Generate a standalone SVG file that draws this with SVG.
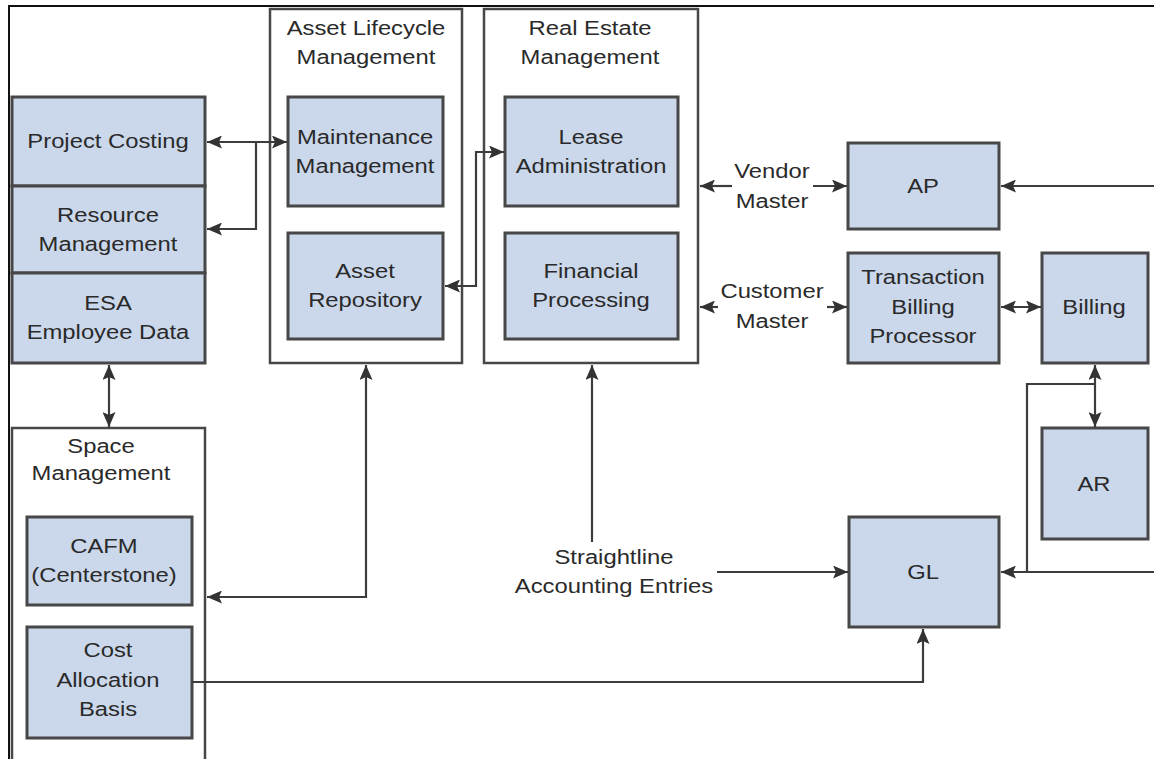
<svg xmlns="http://www.w3.org/2000/svg" width="1154" height="759" viewBox="0 0 1154 759">
<style>
.box{fill:#cbd8eb;stroke:#474747;stroke-width:3}
.cont{fill:#ffffff;stroke:#474747;stroke-width:2.5}
.con{fill:none;stroke:#3c3c3c;stroke-width:2.2}
.t{font-family:"Liberation Sans",Arial,sans-serif;font-size:20px;fill:#2a2a2a;text-anchor:middle}
</style>
<defs>
<marker id="ah" markerUnits="userSpaceOnUse" markerWidth="15" markerHeight="13" viewBox="0 0 15 13" refX="15" refY="6.5" orient="auto-start-reverse">
<path d="M0,0 L15,6.5 L0,13 L3,6.5 z" fill="#333333"/>
</marker>
</defs>
<rect width="1154" height="759" fill="#ffffff"/>
<g id="frame">
<path d="M1154,6 H9 V759" fill="none" stroke="#111111" stroke-width="2"/>
</g>
<g id="asset-lifecycle-management">
<rect class="cont" x="270" y="9" width="192" height="354"/>
<text class="t" transform="translate(366,0) scale(1.19,1)"><tspan x="0" y="35">Asset Lifecycle</tspan><tspan x="0" y="64">Management</tspan></text>
</g>
<g id="real-estate-management">
<rect class="cont" x="484" y="9" width="214" height="354"/>
<text class="t" transform="translate(590,0) scale(1.19,1)"><tspan x="0" y="35">Real Estate</tspan><tspan x="0" y="64">Management</tspan></text>
</g>
<g id="space-management">
<path class="cont" d="M12,762 V428 H205 V762"/>
<text class="t" transform="translate(101,0) scale(1.19,1)"><tspan x="0" y="453">Space</tspan><tspan x="0" y="480">Management</tspan></text>
</g>
<g id="project-costing">
<rect class="box" x="12" y="97" width="193" height="89"/>
<text class="t" transform="translate(108,0) scale(1.19,1)"><tspan x="0" y="148">Project Costing</tspan></text>
</g>
<g id="resource-management">
<rect class="box" x="12" y="186" width="193" height="87"/>
<text class="t" transform="translate(108,0) scale(1.19,1)"><tspan x="0" y="222">Resource</tspan><tspan x="0" y="251">Management</tspan></text>
</g>
<g id="esa-employee-data">
<rect class="box" x="12" y="273" width="193" height="90"/>
<text class="t" transform="translate(108,0) scale(1.19,1)"><tspan x="0" y="310">ESA</tspan><tspan x="0" y="339">Employee Data</tspan></text>
</g>
<g id="maintenance-management">
<rect class="box" x="288" y="97" width="155" height="109"/>
<text class="t" transform="translate(365,0) scale(1.19,1)"><tspan x="0" y="144">Maintenance</tspan><tspan x="0" y="173">Management</tspan></text>
</g>
<g id="asset-repository">
<rect class="box" x="288" y="233" width="155" height="106"/>
<text class="t" transform="translate(365,0) scale(1.19,1)"><tspan x="0" y="278">Asset</tspan><tspan x="0" y="307">Repository</tspan></text>
</g>
<g id="lease-administration">
<rect class="box" x="505" y="97" width="173" height="109"/>
<text class="t" transform="translate(591,0) scale(1.19,1)"><tspan x="0" y="144">Lease</tspan><tspan x="0" y="173">Administration</tspan></text>
</g>
<g id="financial-processing">
<rect class="box" x="505" y="233" width="173" height="106"/>
<text class="t" transform="translate(591,0) scale(1.19,1)"><tspan x="0" y="278">Financial</tspan><tspan x="0" y="307">Processing</tspan></text>
</g>
<g id="ap">
<rect class="box" x="848" y="143" width="151" height="86"/>
<text class="t" transform="translate(923,0) scale(1.19,1)"><tspan x="0" y="193">AP</tspan></text>
</g>
<g id="transaction-billing-processor">
<rect class="box" x="848" y="253" width="151" height="110"/>
<text class="t" transform="translate(923,0) scale(1.19,1)"><tspan x="0" y="284">Transaction</tspan><tspan x="0" y="314">Billing</tspan><tspan x="0" y="343">Processor</tspan></text>
</g>
<g id="billing">
<rect class="box" x="1042" y="253" width="106" height="110"/>
<text class="t" transform="translate(1094,0) scale(1.19,1)"><tspan x="0" y="314">Billing</tspan></text>
</g>
<g id="ar">
<rect class="box" x="1042" y="428" width="106" height="111"/>
<text class="t" transform="translate(1094,0) scale(1.19,1)"><tspan x="0" y="491">AR</tspan></text>
</g>
<g id="gl">
<rect class="box" x="849" y="517" width="150" height="110"/>
<text class="t" transform="translate(923,0) scale(1.19,1)"><tspan x="0" y="579">GL</tspan></text>
</g>
<g id="cafm">
<rect class="box" x="27" y="517" width="165" height="88"/>
<text class="t" transform="translate(104,0) scale(1.19,1)"><tspan x="0" y="553">CAFM</tspan><tspan x="0" y="582">(Centerstone)</tspan></text>
</g>
<g id="cost-allocation-basis">
<rect class="box" x="27" y="627" width="165" height="111"/>
<text class="t" transform="translate(108,0) scale(1.19,1)"><tspan x="0" y="657">Cost</tspan><tspan x="0" y="687">Allocation</tspan><tspan x="0" y="716">Basis</tspan></text>
</g>
<g id="labels">
<text class="t" transform="translate(772,0) scale(1.19,1)"><tspan x="0" y="178">Vendor</tspan><tspan x="0" y="208">Master</tspan></text>
<text class="t" transform="translate(772,0) scale(1.19,1)"><tspan x="0" y="298">Customer</tspan><tspan x="0" y="328">Master</tspan></text>
<text class="t" transform="translate(614,0) scale(1.19,1)"><tspan x="0" y="564">Straightline</tspan><tspan x="0" y="593">Accounting Entries</tspan></text>
</g>
<g id="connectors">
<path class="con" d="M207,142 H287" marker-start="url(#ah)" marker-end="url(#ah)"/>
<path class="con" d="M256,142 V229 H207" marker-end="url(#ah)"/>
<path class="con" d="M445,286 H476 V152 H504" marker-start="url(#ah)" marker-end="url(#ah)"/>
<path class="con" d="M109,365 V427" marker-start="url(#ah)" marker-end="url(#ah)"/>
<path class="con" d="M207,597 H366 V365" marker-start="url(#ah)" marker-end="url(#ah)"/>
<path class="con" d="M592,542 V365" marker-end="url(#ah)"/>
<path class="con" d="M717,572 H848" marker-end="url(#ah)"/>
<path class="con" d="M192,682 H923 V629" marker-end="url(#ah)"/>
<path class="con" d="M732,186 H700" marker-end="url(#ah)"/>
<path class="con" d="M813,186 H847" marker-end="url(#ah)"/>
<path class="con" d="M718,307 H700" marker-end="url(#ah)"/>
<path class="con" d="M827,307 H847" marker-end="url(#ah)"/>
<path class="con" d="M1001,307 H1041" marker-start="url(#ah)" marker-end="url(#ah)"/>
<path class="con" d="M1095,365 V427" marker-start="url(#ah)" marker-end="url(#ah)"/>
<path class="con" d="M1095,384 H1027 V572"/>
<path class="con" d="M1154,572 H1001" marker-end="url(#ah)"/>
<path class="con" d="M1154,186 H1001" marker-end="url(#ah)"/>
</g>
</svg>
